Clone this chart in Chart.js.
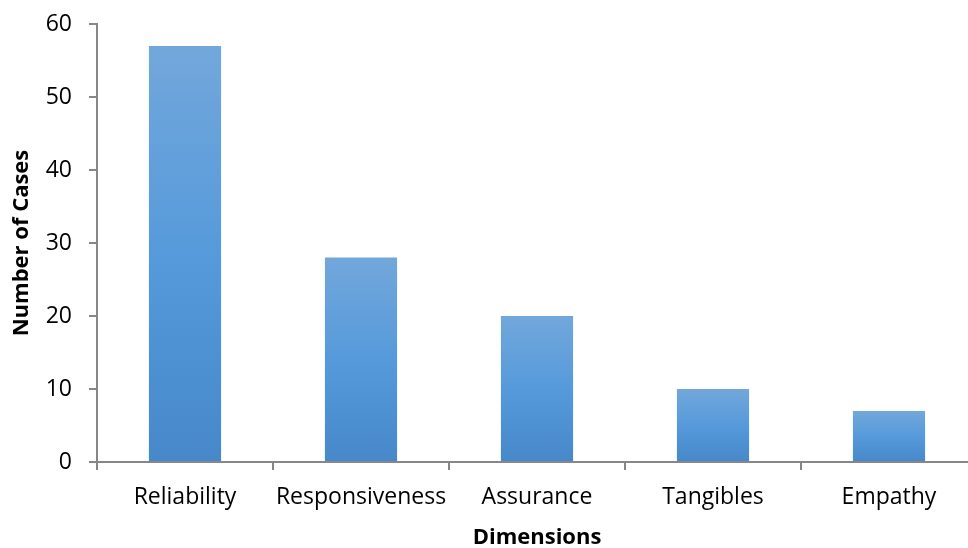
<!DOCTYPE html>
<html>
<head>
<meta charset="utf-8">
<script src="https://cdn.jsdelivr.net/npm/chart.js@4.4.1/dist/chart.umd.min.js"></script>
<style>
  html, body { margin: 0; padding: 0; background: #ffffff; overflow: hidden; }
  #wrap { width: 968px; height: 548px; position: relative; overflow: hidden; }
  #chart { position: absolute; left: 0; top: 0; }
</style>
</head>
<body>
<!-- the plot runs slightly past the right edge of the visible frame -->
<div id="wrap"><canvas id="chart" width="977" height="548" style="width:977px;height:548px"></canvas></div>
<script>
// Service quality dimensions and the number of cases in each
const categories = ['Reliability', 'Responsiveness', 'Assurance', 'Tangibles', 'Empathy'];
const caseCounts = [57, 28, 20, 10, 7];
const yTicks = [0, 10, 20, 30, 40, 50, 60];

const FONT = "'Open Sans', Lato, 'Liberation Sans', sans-serif";
const AXIS_GREY = '#878787';

// Vertical gradient per bar: lighter at the top, deeper at the base
function barGradient(ctx) {
  const chart = ctx.chart;
  const y = chart.scales.y;
  if (!y || ctx.type !== 'data') return '#5B9BD5';
  const top = y.getPixelForValue(ctx.parsed ? ctx.parsed.y : caseCounts[ctx.dataIndex]);
  const base = y.getPixelForValue(0);
  if (!isFinite(top) || !isFinite(base) || top === base) return '#5B9BD5';
  const g = chart.ctx.createLinearGradient(0, top, 0, base);
  g.addColorStop(0, '#72A7DB');
  g.addColorStop(0.5, '#569ADB');
  g.addColorStop(1, '#4688C9');
  return g;
}

new Chart(document.getElementById('chart'), {
  type: 'bar',
  data: {
    labels: categories,
    datasets: [{
      data: caseCounts,
      backgroundColor: barGradient,
      borderWidth: 0,
      categoryPercentage: 1.0,
      barPercentage: 0.41
    }]
  },
  options: {
    responsive: false,
    animation: false,
    devicePixelRatio: 1,
    layout: { padding: { top: 24, right: 0, bottom: 0, left: 0 } },
    plugins: { legend: { display: false }, tooltip: { enabled: false } },
    scales: {
      x: {
        offset: true,
        afterFit: (scale) => { scale.height = 86; scale.paddingLeft = 0; scale.paddingRight = 0; },
        border: { display: true, color: AXIS_GREY, width: 2 },
        grid: { display: true, drawOnChartArea: false, offset: true, color: AXIS_GREY, lineWidth: 2, tickLength: 8 },
        ticks: { color: '#000000', font: { family: FONT, size: 23 }, padding: 14, maxRotation: 0, autoSkip: false },
        title: { display: true, text: 'Dimensions', color: '#000000', font: { family: FONT, size: 22, weight: 'bold', lineHeight: 0.95 }, padding: { top: 0, bottom: 0 } }
      },
      y: {
        min: 0,
        max: 60,
        afterBuildTicks: (scale) => { scale.ticks = yTicks.map(v => ({ value: v })); },
        afterFit: (scale) => { scale.width = 97; scale.paddingTop = 0; scale.paddingBottom = 0; },
        border: { display: true, color: AXIS_GREY, width: 2 },
        grid: { display: true, drawOnChartArea: false, color: AXIS_GREY, lineWidth: 2, tickLength: 8 },
        ticks: { color: '#000000', font: { family: FONT, size: 23 }, padding: 17 },
        title: { display: true, text: 'Number of Cases', color: '#000000', font: { family: FONT, size: 22, weight: 'bold' }, padding: { top: 9, bottom: 0 } }
      }
    }
  }
});
</script>
</body>
</html>
